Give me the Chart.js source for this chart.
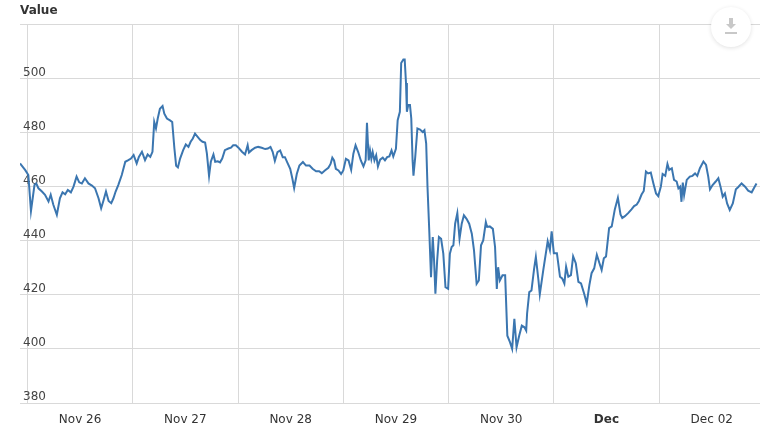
<!DOCTYPE html>
<html>
<head>
<meta charset="utf-8">
<script src="https://cdn.jsdelivr.net/npm/chart.js@4.4.0/dist/chart.umd.min.js"></script>
<style>
    html, body { margin: 0; padding: 0; background: #fff; }
    #wrap { position: relative; width: 770px; height: 429px; }
    #exportBtn {
        position: absolute; left: 711px; top: 7px; width: 40px; height: 40px;
        border-radius: 50%; background: #fff; box-shadow: 0 1px 4px rgba(0,0,0,0.12);
    }
    #exportBtn .stem { position: absolute; left: 18px; top: 11px; width: 4px; height: 6px; background: #c8c8c8; }
    #exportBtn .head { position: absolute; left: 15px; top: 17px; width: 0; height: 0;
        border-left: 5px solid transparent; border-right: 5px solid transparent; border-top: 5px solid #c8c8c8; }
    #exportBtn .bar { position: absolute; left: 14px; top: 25px; width: 12px; height: 2px; background: #c8c8c8; }
</style>
</head>
<body>
<div id="wrap">
    <canvas id="chart"></canvas>
    <div id="exportBtn"><div class="stem"></div><div class="head"></div><div class="bar"></div></div>
</div>
<script>
// ===== DATA (hours from Nov 26 00:00) =====
const hours = [
    -13.7, -12.5, -11.8, -11.2, -10.4, -10.0, -9.5, -8.7, -8.0, -7.2, -6.7, -6.1, -5.3, -4.6, -4.0, -3.4, -2.8, -2.1, -1.5, -0.8,
    -0.2, 0.4, 1.1, 1.9, 2.7, 3.4, 4.2, 4.8, 5.3, 5.9, 6.5, 7.1, 7.6, 8.1, 8.7, 9.5, 10.3, 11.0, 11.6, 12.2,
    12.9, 13.4, 14.1, 14.8, 15.4, 16.0, 16.5, 16.9, 17.3, 17.7, 18.2, 18.8, 19.2, 19.8, 20.5, 21.0, 21.5, 21.9, 22.3, 22.8,
    23.5, 24.1, 24.7, 25.2, 25.7, 26.2, 26.8, 27.4, 27.9, 28.5, 28.9, 29.4, 29.8, 30.4, 30.8, 31.4, 31.9, 32.4, 33.0, 33.8,
    34.4, 34.9, 35.5, 36.1, 36.9, 37.6, 38.2, 38.5, 39.1, 39.9, 40.6, 41.4, 42.2, 42.8, 43.4, 43.9, 44.4, 45.0, 45.6, 46.2,
    46.7, 47.2, 47.9, 48.4, 48.8, 49.4, 50.0, 50.8, 51.5, 52.3, 53.0, 53.8, 54.5, 55.1, 55.8, 56.6, 57.1, 57.5, 57.9, 58.3,
    58.9, 59.5, 60.0, 60.6, 61.2, 61.8, 62.3, 62.8, 63.4, 64.0, 64.6, 65.1, 65.4, 65.8, 66.1, 66.4, 66.7, 67.1, 67.5, 67.9,
    68.4, 69.0, 69.5, 70.0, 70.5, 71.0, 71.4, 72.0, 72.4, 72.9, 73.2, 73.7, 74.0, 74.3, 74.5, 74.8, 75.2, 75.5, 75.8, 76.0,
    76.4, 76.9, 77.5, 78.1, 78.5, 78.9, 79.2, 79.6, 80.0, 80.4, 80.7, 81.0, 81.4, 81.8, 82.3, 82.8, 83.3, 83.9, 84.3, 84.7,
    85.1, 85.5, 86.0, 86.5, 87.0, 87.5, 88.1, 88.7, 89.3, 89.8, 90.4, 90.9, 91.4, 91.9, 92.5, 92.8, 93.4, 94.1, 94.6, 95.0,
    95.3, 95.7, 96.3, 96.9, 97.4, 98.0, 98.5, 99.0, 99.5, 100.1, 100.7, 101.3, 101.7, 101.9, 102.4, 102.9, 103.5, 103.9, 104.5, 104.8,
    105.6, 106.6, 107.1, 107.5, 108.0, 108.7, 109.4, 109.9, 110.4, 110.8, 111.3, 111.9, 112.4, 113.0, 113.6, 114.2, 114.9, 115.5, 116.1, 116.6,
    117.2, 117.8, 118.4, 118.9, 119.4, 119.9, 120.6, 121.2, 121.9, 122.6, 123.2, 123.6, 124.2, 125.0, 125.7, 126.3, 126.9, 127.4, 128.0, 128.5,
    129.0, 129.5, 130.1, 130.7, 131.3, 131.8, 132.4, 132.8, 133.4, 133.9, 134.3, 134.9, 135.4, 136.0, 136.4, 136.8, 137.1, 137.4, 137.7, 138.3,
    139.0, 139.6, 140.2, 140.7, 141.3, 142.1, 142.7, 143.2, 143.6, 144.2, 144.9, 145.5, 146.0, 146.5, 147.0, 147.5, 148.1, 148.8, 149.5, 150.0,
    150.8, 151.6, 152.3, 153.1, 153.6, 154.2
];

const values = [
    468.6, 466.1, 464.3, 451.0, 460.6, 461.2, 459.4, 458.2, 457.0, 454.5, 457.0, 453.3, 449.6, 455.7, 457.9, 457.2, 458.8, 457.9, 460.0, 463.7,
    461.6, 461.2, 463.1, 461.2, 460.4, 459.4, 455.7, 452.0, 454.7, 458.2, 454.7, 453.9, 455.7, 458.2, 460.6, 464.3, 469.2, 469.8, 470.4, 471.7,
    468.6, 471.0, 472.9, 469.8, 471.9, 471.0, 472.9, 483.9, 481.5, 485.2, 488.8, 489.8, 487.0, 485.2, 484.5, 483.9, 474.1, 467.7, 467.1, 470.4,
    473.5, 475.6, 474.7, 476.6, 477.8, 479.6, 478.4, 477.2, 476.6, 476.3, 472.3, 464.0, 469.2, 471.9, 469.2, 469.4, 469.0, 470.4, 473.5, 474.1,
    474.4, 475.3, 475.3, 474.4, 472.9, 471.9, 475.3, 472.6, 473.5, 474.4, 474.7, 474.4, 473.9, 474.1, 474.7, 472.9, 469.5, 472.8, 473.4, 470.9,
    470.9, 469.1, 466.6, 462.9, 459.5, 464.7, 467.8, 469.1, 467.8, 467.8, 466.6, 465.7, 465.7, 465.0, 466.0, 467.0, 468.4, 470.7, 469.7, 466.6,
    466.0, 464.7, 466.0, 470.3, 469.7, 466.2, 472.2, 475.3, 472.8, 469.7, 467.5, 469.7, 483.6, 469.7, 473.4, 470.3, 472.8, 469.7, 471.6, 467.5,
    470.0, 470.7, 469.7, 470.9, 471.2, 473.4, 471.2, 474.0, 484.6, 487.7, 505.7, 507.0, 507.0, 498.3, 487.7, 490.2, 490.2, 485.2, 469.7, 464.1,
    470.9, 481.5, 481.1, 480.2, 480.9, 475.9, 459.9, 443.8, 426.5, 441.4, 432.7, 420.4, 432.7, 441.4, 440.7, 435.2, 422.8, 422.2, 435.2, 437.7,
    438.3, 446.3, 450.2, 440.7, 446.3, 449.4, 448.1, 446.3, 442.6, 436.4, 424.1, 425.3, 438.3, 440.1, 446.9, 445.1, 445.3, 444.4, 437.7, 422.2,
    430.2, 425.3, 427.2, 427.2, 404.9, 402.5, 400.0, 411.1, 400.6, 404.9, 408.6, 408.0, 406.8, 413.0, 421.0, 421.6, 429.6, 434.0, 425.3, 420.2,
    429.2, 439.8, 436.6, 443.5, 435.4, 435.4, 426.7, 426.1, 424.2, 430.4, 426.7, 427.3, 434.2, 431.7, 424.8, 424.2, 420.5, 416.8, 423.6, 428.0,
    429.8, 434.8, 431.7, 429.2, 433.5, 434.2, 444.7, 445.3, 451.6, 455.9, 449.7, 448.4, 449.1, 450.3, 451.6, 452.8, 453.4, 454.7, 457.1, 458.4,
    465.6, 464.9, 465.2, 461.2, 457.5, 456.5, 460.0, 464.7, 464.0, 468.4, 466.2, 466.8, 462.5, 461.9, 459.4, 460.0, 454.4, 461.5, 456.9, 462.5,
    463.7, 464.0, 464.9, 464.0, 466.8, 469.3, 468.0, 463.7, 459.0, 460.6, 461.9, 463.1, 460.0, 456.3, 457.5, 453.8, 451.4, 453.8, 459.0, 459.8,
    461.2, 460.0, 458.5, 457.9, 459.4, 461.2
];

// x-axis: labels at midnight, grid lines at noon
const labelHours = [0, 24, 48, 72, 96, 120, 144];
const xLabels = ["Nov 26", "Nov 27", "Nov 28", "Nov 29", "Nov 30", "Dec", "Dec 02"];
const gridHours = [-12, 12, 36, 60, 84, 108, 132];
const yTicks = [380, 400, 420, 440, 460, 480, 500, 520];

const GRID = "#d9d9d9";
const FONT = "'DejaVu Sans', Verdana, sans-serif";

// ===== CHART =====
new Chart(document.getElementById("chart"), {
    type: "line",
    data: {
        datasets: [{
            label: "Value",
            data: hours.map((h, i) => ({ x: h, y: values[i] })),
            borderColor: "#3b76b0",
            borderWidth: 2,
            pointRadius: 0,
            tension: 0,
            fill: false,
        }],
    },
    options: {
        responsive: true,
        maintainAspectRatio: false,
        animation: false,
        layout: { padding: { left: 20, right: 10, top: 0, bottom: 2 } },
        plugins: {
            legend: { display: false },
            tooltip: { enabled: false },
            title: {
                display: true,
                text: "Value",
                align: "start",
                color: "#333",
                font: { family: FONT, size: 12, weight: "bold" },
                padding: { top: 4, bottom: 6 },
            },
        },
        scales: {
            x: {
                type: "linear",
                min: -13.7,
                max: 155,
                afterFit: (scale) => { scale.height = 24; },
                afterBuildTicks: (scale) => {
                    scale.ticks = gridHours.concat(labelHours).sort((a, b) => a - b).map(v => ({ value: v }));
                },
                border: { display: false },
                grid: {
                    drawTicks: false,
                    color: (ctx) => gridHours.includes(ctx.tick && ctx.tick.value) ? GRID : "rgba(0,0,0,0)",
                },
                ticks: {
                    autoSkip: false,
                    maxRotation: 0,
                    padding: 10,
                    color: "#333",
                    font: (ctx) => ({
                        family: FONT,
                        size: 12,
                        weight: ctx.tick && ctx.tick.value === 120 ? "bold" : "normal",
                    }),
                    callback: (value) => {
                        const i = labelHours.indexOf(value);
                        return i >= 0 ? xLabels[i] : "";
                    },
                },
            },
            y: {
                min: 380,
                max: 520,
                afterFit: (scale) => { scale.width = 0; },
                afterBuildTicks: (scale) => {
                    scale.ticks = yTicks.map(v => ({ value: v }));
                },
                border: { display: false },
                grid: { drawTicks: false, color: GRID },
                ticks: {
                    mirror: true,
                    padding: 3,
                    labelOffset: -6,
                    color: "#444",
                    font: { family: FONT, size: 12 },
                    callback: (value) => value === 520 ? "" : value,
                },
            },
        },
    },
});
</script>
</body>
</html>
